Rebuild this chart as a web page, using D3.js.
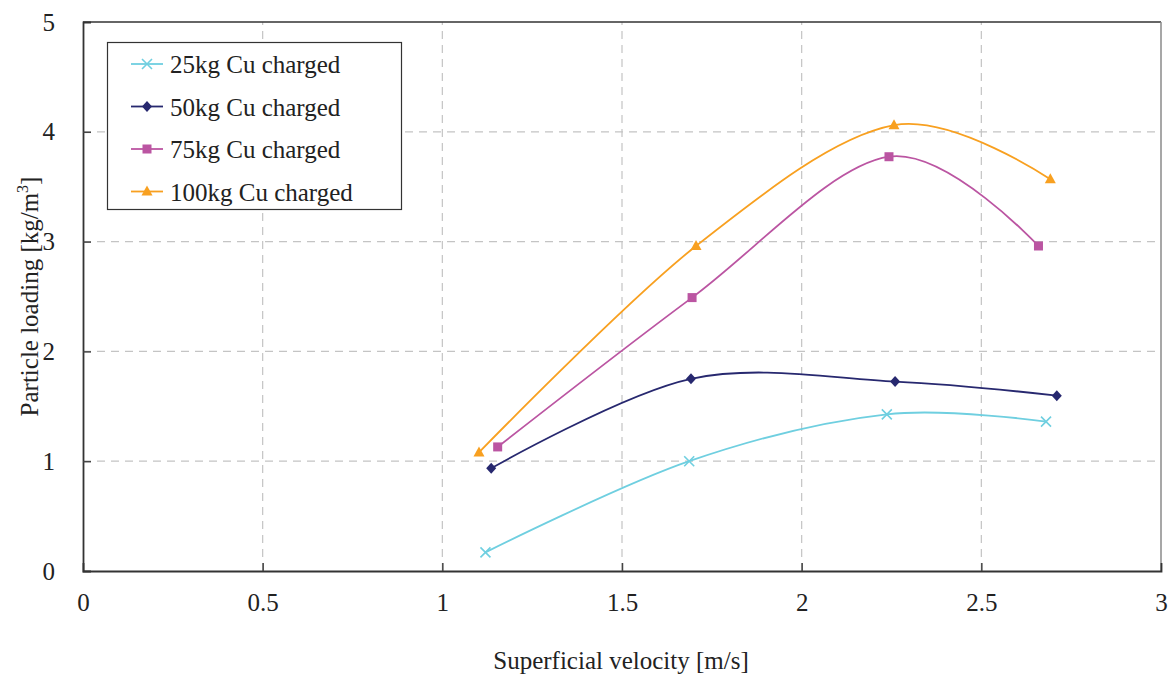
<html>
<head>
<meta charset="utf-8">
<script src="https://cdn.jsdelivr.net/npm/d3@7"></script>
</head>
<body style="margin:0">
<svg id="chart" width="1173" height="676" font-family="Liberation Serif" style="font-family: 'Liberation Serif'"></svg>
<script>
// Series: superficial velocity [m/s] vs particle loading [kg/m3]
const seriesNames = ["25kg Cu charged", "50kg Cu charged", "75kg Cu charged", "100kg Cu charged"];
const v25 = [1.12, 1.687, 2.237, 2.68];
const load25 = [0.17, 1.0, 1.427, 1.36];
const v50 = [1.136, 1.692, 2.26, 2.71];
const load50 = [0.935, 1.75, 1.725, 1.597];
const v75 = [1.154, 1.695, 2.243, 2.659];
const load75 = [1.13, 2.49, 3.773, 2.96];
const v100 = [1.102, 1.706, 2.257, 2.692];
const load100 = [1.08, 2.96, 4.06, 3.567];
const xTicks = [0, 0.5, 1, 1.5, 2, 2.5, 3];
const yTicks = [0, 1, 2, 3, 4, 5];

const colors = ["#6fcfe0", "#27286f", "#bb55a2", "#f8a020"];
const symbols = ["cross", "diamond", "square", "triangle"];
const FONT = "Liberation Serif";

const svg = d3.select("#chart");
const margin = { left: 83, top: 22, right: 1161, bottom: 571 };

const x = d3.scaleLinear().domain([0, 3]).range([margin.left, margin.right]);
const y = d3.scaleLinear().domain([0, 5]).range([margin.bottom, margin.top]);

// dashed grid
const grid = svg.append("g");
grid.selectAll("line.gx").data(xTicks.filter(d => d > 0 && d < 3)).enter().append("line")
  .attr("x1", d => x(d)).attr("x2", d => x(d))
  .attr("y1", y(0)).attr("y2", y(5))
  .attr("stroke", "#c4c4c4").attr("stroke-width", 1.2).attr("stroke-dasharray", "8,6");
grid.selectAll("line.gy").data(yTicks.filter(d => d > 0 && d < 5)).enter().append("line")
  .attr("x1", x(0)).attr("x2", x(3))
  .attr("y1", d => y(d)).attr("y2", d => y(d))
  .attr("stroke", "#c4c4c4").attr("stroke-width", 1.2).attr("stroke-dasharray", "8,6");

// frame: top and right borders
svg.append("line").attr("x1", x(0)).attr("x2", x(3)).attr("y1", y(5)).attr("y2", y(5))
  .attr("stroke", "#333").attr("stroke-width", 1.5);
svg.append("line").attr("x1", x(3)).attr("x2", x(3)).attr("y1", y(5)).attr("y2", y(0))
  .attr("stroke", "#8a8a8a").attr("stroke-width", 1.5);

// axes with inward ticks
const xAxis = d3.axisBottom(x).tickValues(xTicks).tickSize(-8).tickPadding(22).tickFormat(d3.format("~g"));
const yAxis = d3.axisLeft(y).tickValues(yTicks).tickSize(-8).tickPadding(28).tickFormat(d3.format("~g"));

const gx = svg.append("g").attr("transform", `translate(0,${y(0)})`).call(xAxis);
const gy = svg.append("g").attr("transform", `translate(${x(0)},0)`).call(yAxis);
[gx, gy].forEach(g => {
  g.attr("font-family", FONT).attr("font-size", 25);
  g.select(".domain").attr("stroke", "#333").attr("stroke-width", 1.8);
  g.selectAll(".tick line").attr("stroke", "#444").attr("stroke-width", 1.5);
  g.selectAll(".tick text").attr("fill", "#222").attr("font-family", FONT).attr("font-size", 25);
});
gy.selectAll(".tick line").filter(d => d === 0 || d === 5).remove();
gx.selectAll(".tick line").filter(d => d === 0 || d === 3).remove();

// axis titles
svg.append("text").attr("x", 621).attr("y", 669).attr("text-anchor", "middle")
  .attr("font-size", 25).attr("font-family", FONT).attr("fill", "#222")
  .text("Superficial velocity [m/s]");
const yt = svg.append("text").attr("transform", `translate(38,${(y(0) + y(5)) / 2}) rotate(-90)`)
  .attr("text-anchor", "middle").attr("font-size", 25).attr("font-family", FONT).attr("fill", "#222");
yt.append("tspan").text("Particle loading [kg/m");
yt.append("tspan").attr("font-size", 16).attr("dy", -10).text("3");
yt.append("tspan").attr("dy", 10).text("]");

// marker drawing
function drawMarker(g, kind, color, cx, cy) {
  if (kind === "cross") {
    g.append("path").attr("d", `M${cx - 5},${cy - 5}L${cx + 5},${cy + 5}M${cx - 5},${cy + 5}L${cx + 5},${cy - 5}`)
      .attr("stroke", color).attr("stroke-width", 1.6).attr("fill", "none");
  } else if (kind === "diamond") {
    g.append("path").attr("d", `M${cx},${cy - 5.5}L${cx + 5},${cy}L${cx},${cy + 5.5}L${cx - 5},${cy}Z`)
      .attr("fill", color);
  } else if (kind === "square") {
    g.append("rect").attr("x", cx - 4.5).attr("y", cy - 4.5).attr("width", 9).attr("height", 9)
      .attr("fill", color);
  } else {
    g.append("path").attr("d", `M${cx},${cy - 6}L${cx + 5.5},${cy + 4}L${cx - 5.5},${cy + 4}Z`)
      .attr("fill", color);
  }
}

const xs = [v25, v50, v75, v100];
const ys = [load25, load50, load75, load100];
const line = d3.line().x(d => x(d[0])).y(d => y(d[1])).curve(d3.curveCardinal.tension(0));

const plot = svg.append("g");
xs.forEach((vx, i) => {
  const pts = vx.map((v, j) => [v, ys[i][j]]);
  plot.append("path").datum(pts).attr("d", line)
    .attr("fill", "none").attr("stroke", colors[i]).attr("stroke-width", 1.8);
});
xs.forEach((vx, i) => {
  const g = plot.append("g");
  vx.forEach((v, j) => drawMarker(g, symbols[i], colors[i], x(v), y(ys[i][j])));
});

// legend
const lg = svg.append("g");
lg.append("rect").attr("x", 107.5).attr("y", 42.5).attr("width", 294).attr("height", 167)
  .attr("fill", "#fff").attr("stroke", "#333").attr("stroke-width", 1.2);
seriesNames.forEach((name, i) => {
  const cy = 64 + i * 42.5;
  lg.append("line").attr("x1", 131).attr("x2", 163).attr("y1", cy).attr("y2", cy)
    .attr("stroke", colors[i]).attr("stroke-width", 1.8);
  drawMarker(lg, symbols[i], colors[i], 147, cy);
  lg.append("text").attr("x", 170).attr("y", cy + 9)
    .attr("font-size", 25).attr("font-family", FONT).attr("fill", "#222").text(name);
});
</script>
</body>
</html>
